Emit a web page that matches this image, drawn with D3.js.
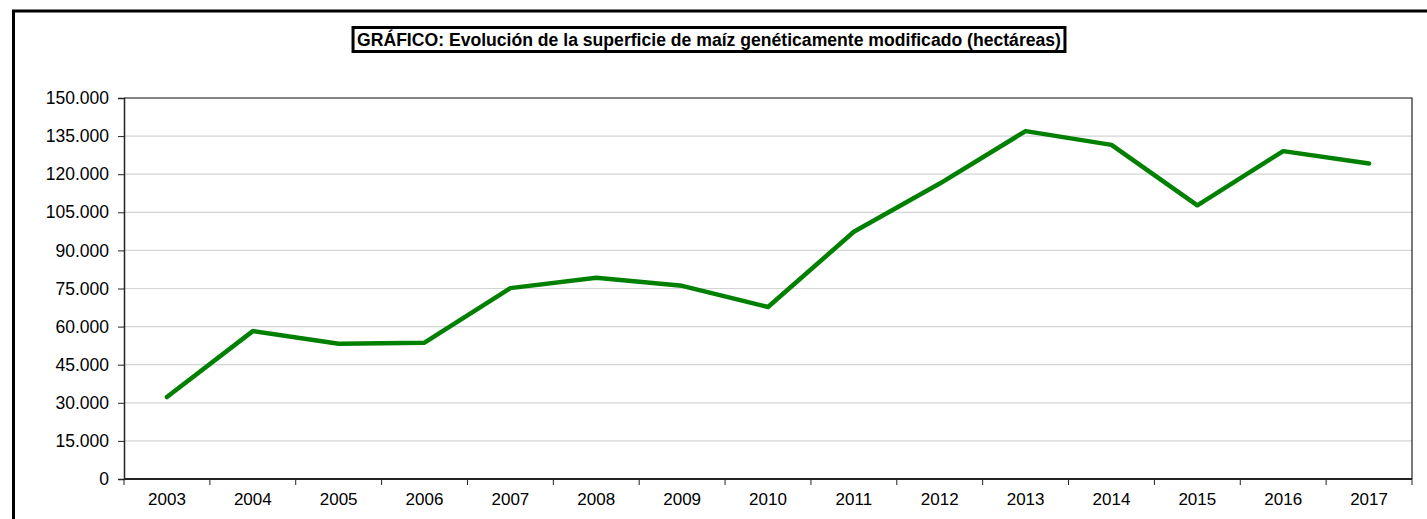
<!DOCTYPE html>
<html>
<head>
<meta charset="utf-8">
<script src="https://cdn.jsdelivr.net/npm/d3@7"></script>
<style>
  body { margin: 0; background: #fff; overflow: hidden; }
  svg { display: block; font-family: "Liberation Sans", Arial, sans-serif; }
</style>
</head>
<body>
<div id="chart"></div>
<script>
// datos: superficie de maiz GM (hectareas)
const years = ['2003','2004','2005','2006','2007','2008','2009','2010','2011','2012','2013','2014','2015','2016','2017'];
const hectares = [32249, 58219, 53225, 53667, 75148, 79269, 76057, 67726, 97325, 116307, 136962, 131538, 107749, 129081, 124227];
const yTicks = [0, 15000, 30000, 45000, 60000, 75000, 90000, 105000, 120000, 135000, 150000];
const title = 'GRÁFICO: Evolución de la superficie de maíz genéticamente modificado (hectáreas)';

const width = 1427, height = 519;
const margin = {top: 98, right: 15, bottom: 40, left: 124};

const svg = d3.select('#chart')
  .append('svg')
  .attr('width', width)
  .attr('height', height);

// outer frame, runs off the right/bottom edge
svg.append('rect')
  .attr('x', 13.5).attr('y', 11)
  .attr('width', width + 20).attr('height', height + 20)
  .attr('fill', 'none')
  .attr('stroke', '#000')
  .attr('stroke-width', 3);

const x = d3.scaleBand()
  .domain(years)
  .range([margin.left, width - margin.right]);

const y = d3.scaleLinear()
  .domain([0, 150000])
  .range([height - margin.bottom, margin.top]);

const fmt = d => d3.format(',')(d).replace(/,/g, '.');

// grid
svg.append('g')
  .selectAll('line')
  .data(yTicks.slice(1))
  .enter()
  .append('line')
  .attr('x1', margin.left).attr('x2', width - margin.right)
  .attr('y1', d => y(d)).attr('y2', d => y(d))
  .attr('stroke', '#d4d4d4')
  .attr('stroke-width', 1.2);

// plot border top/right
svg.append('path')
  .attr('d', `M${margin.left},${y(150000)}H${width - margin.right}V${y(0)}`)
  .attr('fill', 'none')
  .attr('stroke', '#222')
  .attr('stroke-width', 1.2);

// y axis
svg.append('g')
  .attr('transform', `translate(${margin.left},0)`)
  .call(d3.axisLeft(y).tickValues(yTicks).tickFormat(fmt).tickSize(6).tickPadding(9))
  .call(g => g.select('.domain').attr('stroke', '#222').attr('stroke-width', 1.5))
  .call(g => g.selectAll('.tick line').attr('stroke', '#222'))
  .call(g => g.selectAll('text').attr('font-size', 17.5).attr('fill', '#000'))
  .attr('font-family', null);

// x axis, ticks between categories
const xAxisG = svg.append('g')
  .attr('transform', `translate(0,${height - margin.bottom})`);
xAxisG.append('line')
  .attr('x1', margin.left).attr('x2', width - margin.right)
  .attr('stroke', '#222').attr('stroke-width', 1.8);
xAxisG.selectAll('line.tk')
  .data(years.concat(['end']))
  .enter()
  .append('line')
  .attr('class', 'tk')
  .attr('x1', (d, i) => i < years.length ? x(d) : x(years[years.length - 1]) + x.bandwidth())
  .attr('x2', (d, i) => i < years.length ? x(d) : x(years[years.length - 1]) + x.bandwidth())
  .attr('y1', 0).attr('y2', 6)
  .attr('stroke', '#222');
xAxisG.selectAll('text')
  .data(years)
  .enter()
  .append('text')
  .attr('x', d => x(d) + x.bandwidth() / 2)
  .attr('y', 26)
  .attr('text-anchor', 'middle')
  .attr('font-size', 17)
  .text(d => d);

// the line
const line = d3.line()
  .x((d, i) => x(years[i]) + x.bandwidth() / 2)
  .y(d => y(d));

svg.append('path')
  .datum(hectares)
  .attr('d', line)
  .attr('fill', 'none')
  .attr('stroke', '#008000')
  .attr('stroke-width', 4.5)
  .attr('stroke-linejoin', 'round')
  .attr('stroke-linecap', 'round');

// title with box
const titleBox = svg.append('rect');
const t = svg.append('text')
  .attr('x', 709)
  .attr('y', 46)
  .attr('text-anchor', 'middle')
  .attr('font-size', 17.6)
  .attr('font-weight', 'bold')
  .text(title);
const bb = t.node().getBBox();
titleBox
  .attr('x', bb.x - 4).attr('y', 27.5)
  .attr('width', bb.width + 8).attr('height', 24)
  .attr('fill', '#fff')
  .attr('stroke', '#000')
  .attr('stroke-width', 3);
</script>
</body>
</html>
